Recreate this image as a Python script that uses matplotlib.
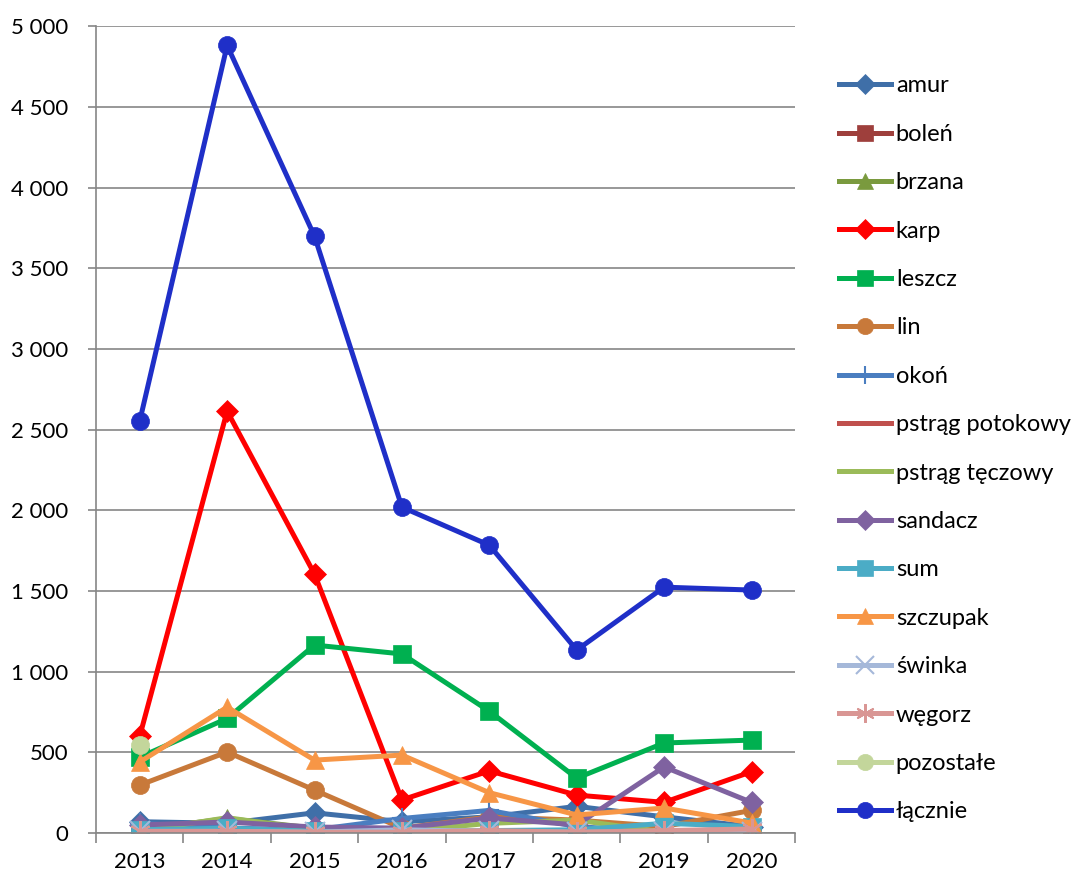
import matplotlib
matplotlib.use("Agg")
import matplotlib.pyplot as plt
from matplotlib.ticker import FuncFormatter, FixedLocator

plt.rcParams["font.family"] = ["Lato", "DejaVu Sans"]

nan = float("nan")
years = [2013, 2014, 2015, 2016, 2017, 2018, 2019, 2020]

amur = [70, 60, 125, 70, 100, 165, 100, 40]
bolen = [5, 5, 5, 5, 5, 5, 5, 5]
brzana = [20, 90, 30, 10, 5, 0, 5, 5]
karp = [600, 2615, 1605, 205, 385, 235, 190, 380]
leszcz = [470, 710, 1165, 1110, 755, 340, 558, 576]
lin = [297, 502, 266, 30, 100, 80, 40, 140]
okon = [60, 30, 20, 90, 140, 40, 5, 30]
pstrag_potokowy = [0, 0, 0, 0, 0, 0, 0, 0]
pstrag_teczowy = [10, 95, 20, 10, 60, 80, 5, 10]
sandacz = [50, 68, 37, 30, 93, 50, 410, 190]
sum_ = [20, 30, 10, 10, 15, 20, 60, 40]
szczupak = [440, 780, 452, 483, 250, 112, 155, 62]
swinka = [10, 10, 5, 20, 10, 5, 5, 5]
wegorz = [10, 10, 5, 5, 15, 5, 15, 25]
pozostale = [545, nan, nan, nan, nan, nan, nan, nan]
lacznie = [2553, 4882, 3699, 2020, 1784, 1134, 1524, 1506]

series = [
    ("amur", amur, "#3F6FA8", "D"),
    ("boleń", bolen, "#9E3F3C", "s"),
    ("brzana", brzana, "#7A9A3E", "^"),
    ("karp", karp, "#FF0000", "D"),
    ("leszcz", leszcz, "#00B050", "s"),
    ("lin", lin, "#C8793A", "o"),
    ("okoń", okon, "#4A7EC0", "+"),
    ("pstrąg potokowy", pstrag_potokowy, "#C0504D", None),
    ("pstrąg tęczowy", pstrag_teczowy, "#9BBB59", None),
    ("sandacz", sandacz, "#7F62A0", "D"),
    ("sum", sum_, "#4BACC6", "s"),
    ("szczupak", szczupak, "#F79646", "^"),
    ("świnka", swinka, "#A5B8D9", "x"),
    ("węgorz", wegorz, "#D99694", (6, 2, 0)),
    ("pozostałe", pozostale, "#C3D69B", "o"),
    ("łącznie", lacznie, "#1F2FC8", "o"),
]

fig = plt.figure(figsize=(10.79, 8.8), dpi=100)
ax = fig.add_axes([0.089, 0.0534, 0.648, 0.9166])

for name, vals, color, marker in series:
    ms = 13
    if marker == "D":
        ms = 11
    if marker in ("+", "x", (6, 2, 0)):
        ms = 15
    ax.plot(years, vals, color=color, lw=3.6, marker=marker, ms=ms,
            mew=1.5 if marker in ("+", "x", (6, 2, 0)) else 0.5,
            mec=color, label=name)

ax.set_xlim(2012.5, 2020.5)
ax.set_ylim(0, 5000)
ax.set_xticks(years)
ax.xaxis.set_minor_locator(FixedLocator([y + 0.5 for y in range(2012, 2021)]))
ax.tick_params(axis="x", which="major", length=0, labelsize=16, pad=14)
ax.tick_params(axis="x", which="minor", length=7, color="#868686", width=1.2)
ax.set_yticks(range(0, 5001, 500))
ax.yaxis.set_major_formatter(FuncFormatter(lambda v, p: f"{int(v):,}".replace(",", " ")))
ax.tick_params(axis="y", length=6, color="#868686", width=1.2, labelsize=16, pad=14)

ax.grid(axis="y", color="#868686", lw=1.2)
ax.set_axisbelow(True)
for s in ["top", "right"]:
    ax.spines[s].set_visible(False)
for s in ["left", "bottom"]:
    ax.spines[s].set_color("#868686")
    ax.spines[s].set_linewidth(1.2)

fig.legend(loc="upper left", bbox_to_anchor=(0.769, 0.925), frameon=False,
           fontsize=17, handlelength=2.2, handletextpad=0.2, labelspacing=1.16,
           borderaxespad=0, markerscale=0.9)

fig.savefig("out.png", dpi=100)
